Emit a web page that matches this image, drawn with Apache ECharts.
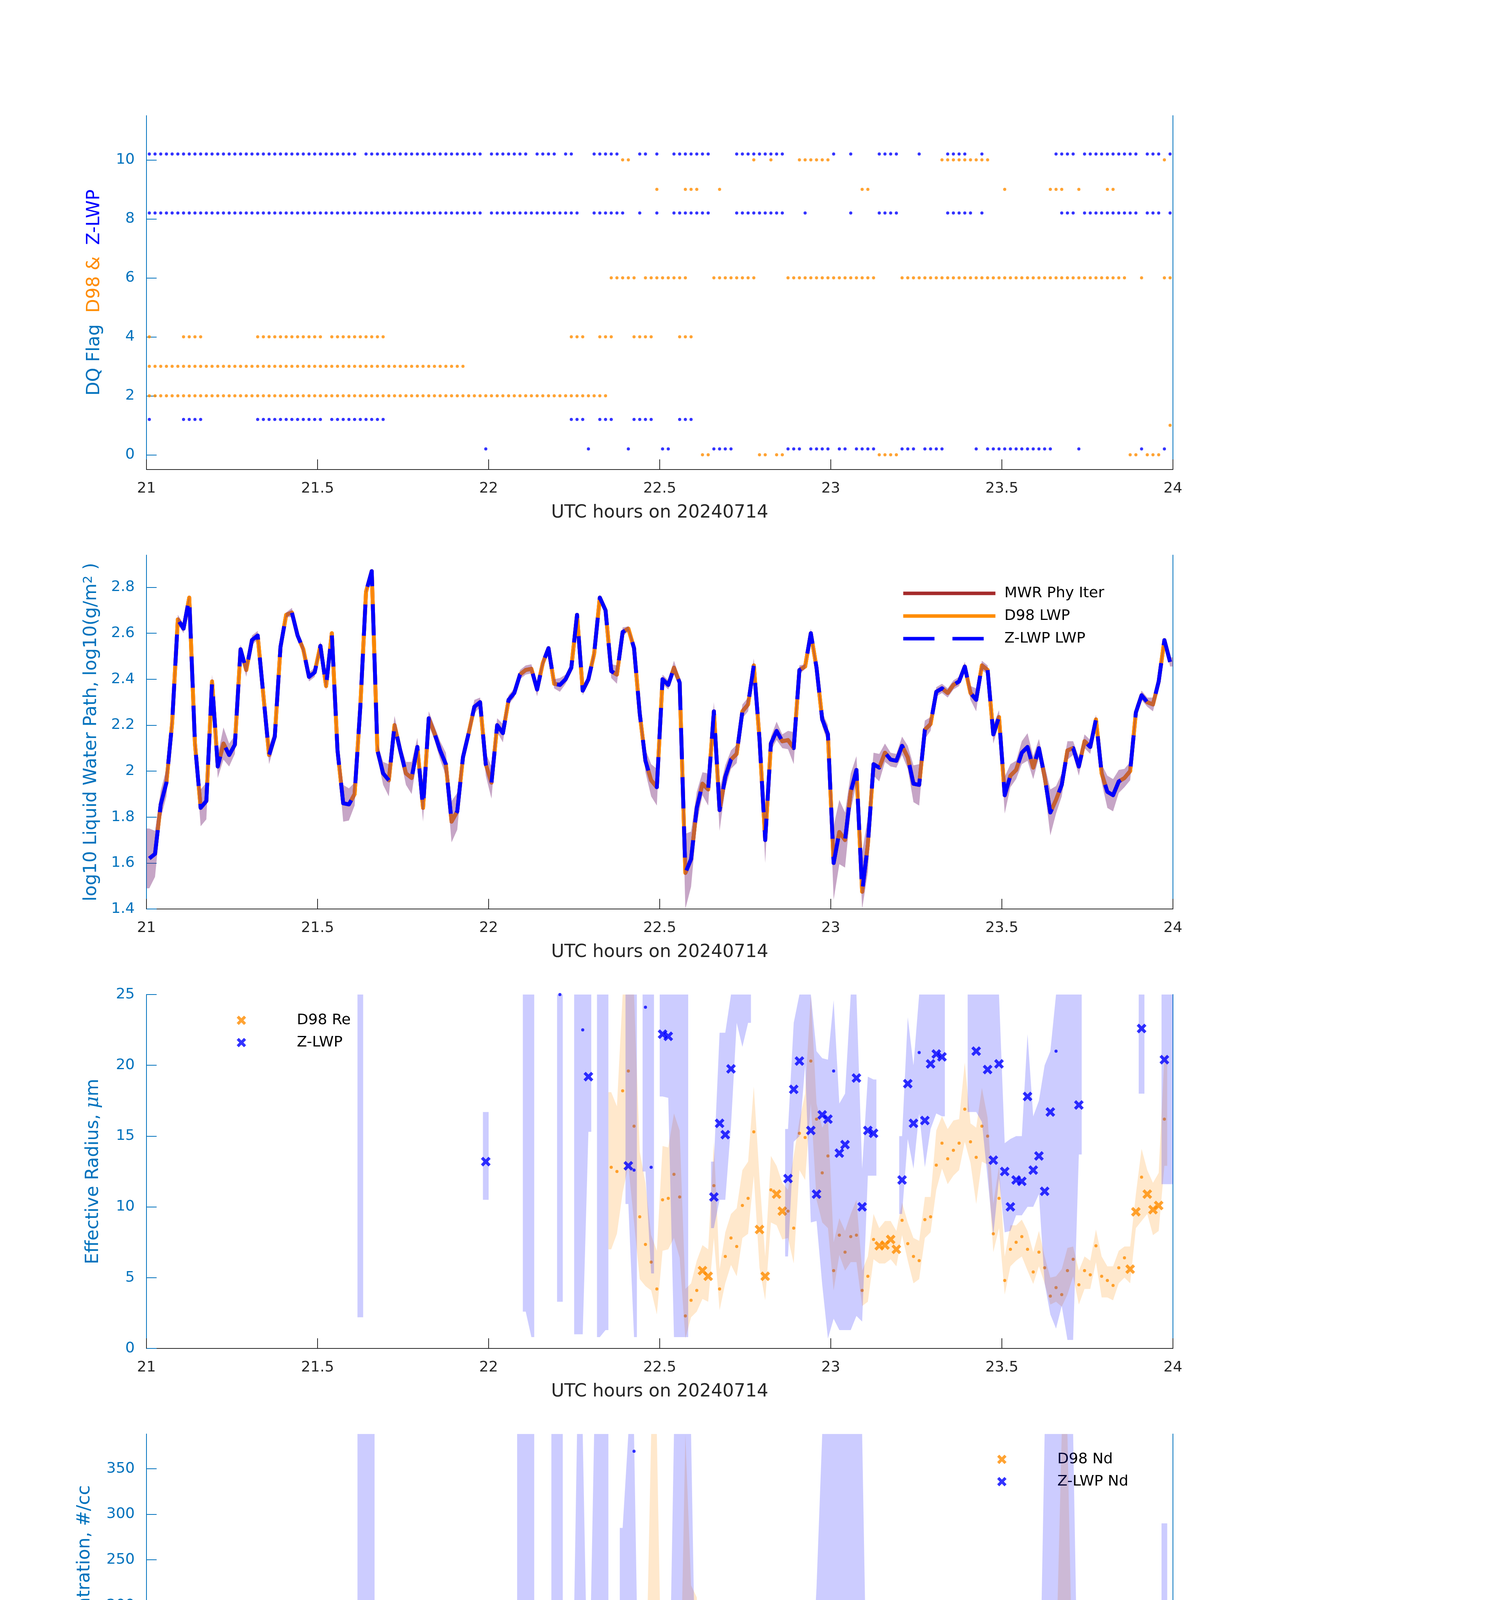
<!DOCTYPE html>
<html><head><meta charset="utf-8">
<script src="https://cdn.jsdelivr.net/npm/echarts@6/dist/echarts.min.js"></script>
<style>html,body{margin:0;padding:0;background:#fff}#c{width:3825px;height:6000px}</style>
</head><body><div id="c"></div>
<script>
// One-minute samples: index i -> 21 + (i+0.5)/60 UTC hours on 20240714
const N = 180;
const xTicks = [21, 21.5, 22, 22.5, 23, 23.5, 24];
// Panel 1: DQ flags as runs of minute indices [first,last]
const dqZ_flag10 = [[0,36],[38,58],[60,66],[68,71],[73,74],[78,82],[86,87],[89,89],[92,98],[103,111],[120,120],[123,123],[128,131],[135,135],[140,143],[146,146],[159,162],[164,173],[175,177],[179,179]];
const dqZ_flag8  = [[0,58],[60,75],[78,83],[86,86],[89,89],[92,98],[103,111],[115,115],[123,123],[128,131],[140,144],[146,146],[160,162],[164,173],[175,177],[179,179]];
const dqZ_flag1  = [[0,0],[6,9],[19,30],[32,41],[74,76],[79,81],[85,88],[93,95]];
const dqZ_flag0  = [[59,59],[77,77],[84,84],[90,91],[99,102],[112,114],[116,119],[121,122],[124,127],[132,134],[136,139],[145,145],[147,158],[163,163],[174,174],[178,178]];
const dqD_flag10 = [[83,84],[106,106],[109,109],[114,119],[139,147],[178,178]];
const dqD_flag9  = [[89,89],[94,96],[100,100],[125,126],[150,150],[158,160],[163,163],[168,169]];
const dqD_flag6  = [[81,85],[87,94],[99,106],[112,127],[132,171],[174,174],[178,179]];
const dqD_flag4  = [[0,0],[6,9],[19,30],[32,41],[74,76],[79,81],[85,88],[93,95]];
const dqD_flag3  = [[0,55]];
const dqD_flag2  = [[0,80]];
const dqD_flag1  = [[179,179]];
const dqD_flag0  = [[97,98],[107,108],[110,111],[128,131],[172,173],[175,177]];
// Panel 2: log10 LWP and uncertainty half-width
const lwp = [
1.62,1.64,1.855,1.95,2.21,2.66,2.62,2.755,2.12,1.84,1.87,2.39,2.02,2.12,2.07,2.115,2.53,2.44,2.57,2.59,
2.33,2.07,2.15,2.54,2.68,2.69,2.59,2.53,2.41,2.43,2.545,2.37,2.60,2.09,1.86,1.855,1.90,2.28,2.78,2.87,
2.09,1.99,1.96,2.20,2.09,1.99,1.97,2.105,1.84,2.23,2.165,2.09,2.03,1.78,1.825,2.06,2.165,2.28,2.30,2.03,
1.95,2.20,2.165,2.31,2.34,2.42,2.44,2.445,2.355,2.47,2.535,2.38,2.375,2.40,2.45,2.68,2.35,2.40,2.51,2.755,
2.70,2.435,2.42,2.605,2.62,2.535,2.25,2.045,1.96,1.93,2.40,2.375,2.45,2.385,1.557,1.617,1.84,1.945,1.92,2.26,
1.83,1.975,2.05,2.075,2.26,2.29,2.46,2.14,1.70,2.12,2.175,2.13,2.135,2.10,2.44,2.455,2.60,2.45,2.225,2.16,
1.60,1.735,1.70,1.91,2.005,1.475,1.68,2.03,2.015,2.08,2.05,2.045,2.11,2.06,1.945,1.94,2.18,2.205,2.345,2.36,
2.34,2.375,2.39,2.455,2.34,2.31,2.46,2.44,2.16,2.235,1.895,1.98,2.005,2.08,2.105,2.015,2.10,1.975,1.82,1.875,
1.94,2.09,2.10,2.02,2.13,2.105,2.225,1.99,1.91,1.895,1.955,1.97,2.00,2.255,2.33,2.30,2.29,2.39,2.57,2.475];
const lwpErr = [
.13,.10,.06,.06,.04,.02,.02,.01,.03,.08,.08,.03,.05,.07,.05,.04,.02,.03,.02,.02,
.02,.04,.03,.02,.01,.02,.01,.02,.02,.02,.02,.02,.01,.03,.08,.07,.05,.03,.01,.01,
.03,.05,.07,.04,.03,.05,.07,.04,.06,.03,.03,.04,.05,.09,.08,.04,.03,.03,.02,.05,
.07,.03,.04,.02,.02,.02,.02,.02,.03,.02,.01,.02,.03,.02,.02,.01,.02,.02,.02,.01,
.02,.03,.04,.02,.01,.02,.03,.05,.07,.08,.02,.02,.03,.02,.17,.12,.07,.05,.07,.04,
.09,.05,.04,.04,.03,.03,.03,.03,.10,.03,.04,.03,.04,.07,.02,.01,.02,.02,.03,.04,
.16,.14,.12,.08,.06,.17,.12,.05,.06,.04,.03,.03,.04,.05,.08,.09,.04,.03,.02,.02,
.02,.02,.02,.02,.03,.05,.02,.02,.04,.03,.08,.05,.04,.05,.06,.05,.04,.05,.10,.06,
.05,.04,.03,.04,.03,.03,.02,.04,.07,.07,.05,.04,.04,.03,.02,.02,.03,.03,.01,.02];
// D98 retrievals: minutes 81..178
const d98Start = 81;
const reD98 = [
12.8,12.5,18.2,19.6,15.7,9.3,7.35,6.1,4.2,10.5,10.6,12.3,10.7,2.3,3.4,4.1,5.5,5.1,11.5,4.2,
6.5,7.8,7.2,10.1,10.6,15.3,8.4,5.1,11.2,10.9,9.7,9.7,8.5,15.2,14.9,20.3,16.2,12.4,13.6,5.5,
8.0,6.8,7.9,8.0,4.1,5.1,7.7,7.25,7.3,7.7,7.0,9.05,7.4,6.5,6.2,9.1,9.3,12.95,14.5,13.4,
14.0,14.5,16.9,14.6,13.5,15.7,15.0,8.1,10.6,4.8,7.0,7.5,7.9,7.0,5.4,6.8,5.7,3.7,4.3,3.8,
5.5,6.3,4.5,5.5,5.2,7.25,5.1,4.8,4.45,5.7,6.4,5.6,9.65,12.1,10.9,9.8,10.1,16.2];
const reD98Lo = [
7.0,8.1,11.0,12.9,8.9,4.9,4.4,4.1,2.4,6.9,7.0,7.8,6.4,0.7,2.2,2.6,3.5,3.3,7.8,2.7,
4.6,5.9,5.1,7.8,8.1,12.2,5.7,3.4,8.9,8.7,7.7,7.8,6.0,12.6,11.9,17.3,10.5,8.9,8.5,4.1,
6.6,5.5,6.1,6.1,3.0,3.3,6.3,6.0,6.0,6.3,5.8,8.0,6.2,4.6,4.9,7.8,8.2,11.2,12.7,11.6,
12.2,12.6,14.6,13.1,10.2,13.2,13.0,6.8,8.5,3.8,5.8,6.2,6.5,5.5,4.55,5.8,4.6,3.1,3.3,2.95,
3.8,5.1,3.1,4.2,4.2,6.1,3.6,3.6,3.4,4.6,5.0,4.6,8.5,9.0,9.5,8.0,8.3,12.9];
const reD98Hi = [
18.1,17.1,26,26,26,13.9,11.7,8.0,6.9,14.3,14.2,16.6,15.4,4.2,4.6,6.2,7.3,7.0,14.6,5.6,
8.2,9.5,9.9,12.6,13.2,18.5,12.1,6.5,13.6,12.9,11.7,11.2,13.6,16.1,18.0,25.5,17.3,15.6,16.3,7.5,
9.2,8.3,9.5,10.5,5.5,6.5,9.5,8.5,9.0,9.0,8.3,10.3,8.9,7.8,7.6,10.7,10.7,15.4,16.4,15.5,
16.1,16.2,20.2,15.9,15.6,18.4,16.3,10.2,12.9,6.5,8.7,8.7,9.1,8.3,6.8,8.3,6.5,5.0,5.1,5.6,
7.1,7.2,5.5,6.5,6.2,8.4,6.5,5.8,5.8,6.9,7.2,7.2,10.9,14.1,12.6,11.7,12.4,20.7];
const ndD98 = [
8,9,4.5,4,5.8,12.6,16.8,25.4,76.5,12,11.8,9.2,11.3,167,55.5,52.4,26.7,30,6,50,
19.6,12.3,18,9.2,8.4,3.9,11.5,19.6,4.5,5.8,7.6,7,8,3.9,4.7,2.4,3.4,4.7,3.1,12.8,
5.8,9,8.4,9.2,21.5,18.3,12,13,13.6,11.8,15.7,9.2,14,16,19.6,9.2,10.5,5.2,3.9,5,
5,5,3,4.5,5.8,4.5,4.5,14,10,36.7,15.7,14,13,21,36.7,21.5,28,77,56,94,
43,28.3,55.5,38.5,39.3,20,31.4,32.7,41.7,22.8,17,28,9.4,7,8.4,10.5,11,4.5];
const ndD98Lo = [
4,5,2,2,3,6,8,10,30,5,5,4,5,40,20,20,14,15,3,15,
8,6,7,4,4,2,6,8,2,3,4,3,3,2,2,1,2,2,2,6,
3,4,4,5,10,8,6,8,8,7,9,5,7,8,9,5,6,3,2,3,
3,3,2,2,3,2,2,8,5,15,8,7,7,10,16,11,13,30,25,35,
20,13,25,18,19,10,14,15,19,11,8,14,5,5,4,5,6,2];
const ndD98Hi = [
50,30,13,10,12,88,83,400,400,46,44,45,60,400,222,209,105,125,30,197,
87,40,55,20,18,10,36,73,12,12,15,15,32,10,10,6,8,10,8,24,
20,22,22,24,56,50,25,24,24,22,28,27,30,45,38,20,20,12,8,7,
7,7,6,7,8,7,24,24,24,80,40,40,40,45,67,38,45,134,135,400,
400,80,180,84,75,66,125,74,101,40,20,52,17,19,15,18,19,14];
const odD98 = [
32.3,31.6,33.0,31.8,32.4,29.4,22.9,22.7,31.4,35.9,33.3,34.9,34.6,24.5,18.4,25.9,24.4,24.4,23.8,25.1,
22.1,21.6,25.0,27.3,28.6,28.5,24.9,14.9,17.8,20.7,21.0,21.2,22.3,27.3,28.5,29.4,25.3,20.2,15.9,11.0,
10.4,11.1,15.5,19.2,11.0,13.9,21.2,21.7,25.0,21.9,24.0,21.5,23.0,20.6,21.2,25.1,26.2,25.7,23.9,24.4,
25.3,25.6,25.6,22.4,22.7,27.7,27.3,26.9,24.6,25.1,20.9,20.6,22.7,28.0,29.2,28.2,25.2,27.3,26.7,35.0,
34.1,30.9,34.8,37.7,35.3,35.4,27.8,25.8,27.2,24.1,22.0,27.0,28.4,27.0,27.6,30.2,37.0,34.5];
const odD98Lo = [
22.7,22.7,22.7,22.7,23.2,21,18.4,16.8,18,25.5,25.5,13.1,13.1,13.1,14.9,17.4,18.4,18.2,18.8,18.6,
17.9,17.7,18.4,22,23.4,24.4,17.4,11.7,13.5,18.1,18.8,19.8,23.4,23.5,23.5,22,18.4,14.2,11,9.1,
9.1,9.2,12.1,14.2,8.4,13.5,18.4,18.4,20,18.8,19.8,18.4,18.4,17,18.4,20.5,22.8,22.3,21.6,21.1,
22.7,22,20.5,19.7,20.5,23.5,23.5,23.7,23,19.8,17.7,19.5,21.6,22.7,24.4,23.4,22,22.3,25.8,25.8,
26.4,26.9,30.1,31,29.7,29.7,29.4,24.6,22.3,20.4,19.7,25,23.5,24.1,25.5,28,32.9,26.9];
const odD98Hi = [
60,60,60,60,60,60,60,60,60,60,60,60,60,60,60,41.2,38.7,39.4,34.8,39.6,
30.4,29.0,36.4,36.3,37.8,35.7,37.2,22.7,22.8,26.7,26.7,26.9,32.5,32.5,36.1,36.1,31.1,25.5,18.8,14.2,
12.6,14.2,19.8,25.1,14.9,18.4,24.1,26.5,30.8,26.9,28.3,28.4,28.7,29,28,29.7,30.1,29.9,27.6,28.7,
29.5,30.1,26.2,30.4,30.4,32.9,31.8,31.8,30.4,32.5,25,25.5,29.4,31.8,36.1,33.3,30.8,36.1,43.1,60,
60,60,51.6,47.7,43.8,41.4,44,36.1,34.5,31.8,32.9,32.9,32.7,33.6,34.3,39.6,45.4,43.7];
// Z-LWP retrievals (sparse: minute index -> value or [low, high])
const reZ = {59:13.2,72:25.0,76:22.5,77:19.2,84:12.9,85:12.6,87:24.1,88:12.8,90:22.2,91:22.05,
99:10.7,100:15.9,101:15.1,102:19.75,112:12.0,113:18.3,114:20.3,116:15.4,117:10.9,118:16.5,119:16.2,
120:19.6,121:13.8,122:14.4,124:19.1,125:10.0,126:15.4,127:15.2,132:11.9,133:18.7,134:15.9,135:20.9,
136:16.1,137:20.1,138:20.8,139:20.6,145:21.0,147:19.7,148:13.3,149:20.1,150:12.5,151:10.0,152:11.9,
153:11.8,154:17.8,155:12.6,156:13.6,157:11.1,158:16.7,159:21.0,163:17.2,174:22.6,178:20.4};
const reZBand = {37:[2.2,26],59:[10.5,16.7],66:[2.6,26],67:[0.8,26],72:[3.3,26],75:[1.0,26],76:[1.0,26],77:[15.3,26],
79:[0.8,26],80:[1.3,26],84:[10.2,26],85:[0.8,26],87:[12.5,26],88:[5.3,26],90:[17.8,26],91:[17.7,26],92:[0.8,26],
93:[0.8,26],94:[0.8,26],99:[8.5,13.2],100:[10.5,22.3],101:[10.5,22.3],102:[15.7,26],103:[23,26],104:[21.3,26],
105:[23,26],112:[6.5,15.5],113:[14.6,23],114:[15,26],115:[20,26],116:[8.9,26],117:[9,21],118:[4.5,20.5],
119:[0.7,20.4],120:[2.1,24.6],121:[1.3,17.3],122:[1.3,18],123:[1.3,26],124:[2.3,26],125:[1.9,12.7],
126:[12.2,19.2],127:[12.2,19.0],132:[9.5,15],133:[14.8,23.4],134:[12.7,20],135:[16.6,26],136:[12.8,26],
137:[15.5,26],138:[16.6,26],139:[16.4,26],144:[16.7,26],145:[16.7,26],146:[16,26],147:[12,26],148:[8,26],
149:[12,26],150:[8.2,14.5],151:[8.3,14.8],152:[9.4,15],153:[9.4,15],154:[10,22.2],155:[10,16.4],
156:[10.9,17.5],157:[4.6,20],158:[2.4,21],159:[1.4,26],160:[3,26],161:[0.6,26],162:[0.6,26],163:[13.7,26],
174:[18,26],178:[11.6,26],179:[11.6,26]};
const ndZ = [
0,0,0,0,0,0,0,0,0,0, 0,0,0,0,0,0,0,0,0,0, 0,0,0,0,0,0,0,0,0,0,
0,0,0,0,0,0,0,0,0,0, 0,0,0,0,0,0,0,0,0,0, 0,0,0,0,0,0,0,0,0,24,
0,0,0,0,0,0,1,6.3,0,0, 0,0,61,1.6,1,46,29,27.5,1,1.8,
1,1.6,1.8,7,142.5,369,0,4.5,30.6,1.3, 14,10.5,0,0,0,0,0,0,0,79,
7,15.7,6.5,2.6,4.2,2.4,1.8,0,0,0, 0,0,26,8.4,10,5.2,50,66.5,11,13.6,
3,14,8.4,3,5.8,12.8,6.5,11.8,0,0, 0,0,32.5,7,8.4,3.9,13,7,9.2,9.2,
2.6,2.6,2.6,2.6,5.8,7.9,3,13,18.3,9, 15.7,47,30,31.4,8.4,18.9,19.6,52,8.4,4.5,
1.3,3,3,14.4,0,0,0,0,0,0, 0,0,0,0,9.2,0,0,0,26,0];
const ndZBand = {37:[0,400],38:[0,400],39:[0,400],59:[8,86],65:[0,400],66:[0,400],67:[0,400],71:[0,400],72:[0,400],
74:[0,6],75:[0,400],76:[0,400],77:[0,55],78:[0,400],79:[0,400],80:[0,400],83:[3,285],84:[0,400],85:[0,400],
86:[0,8],87:[0,10],88:[10,61],89:[0,10],90:[0,27],91:[0,27],92:[0,400],93:[0,400],94:[0,400],95:[0,400],96:[0,25],
97:[0,25],98:[0,25],99:[40,158],100:[3,20],101:[5,90],102:[2,25],103:[0,8],104:[0,8],105:[0,8],106:[0,8],
112:[8,91],113:[3,20],114:[3,20],115:[2,10],116:[12,100],117:[16,220],118:[3,400],119:[0,400],120:[0,400],
121:[0,400],122:[0,400],123:[0,400],124:[0,400],125:[0,400],126:[2,25],127:[3,25],132:[10,65],133:[2,25],
134:[2,25],135:[2,25],136:[2,25],137:[2,25],138:[2,25],139:[2,25],144:[0,15],145:[0,15],146:[0,15],147:[3,35],
148:[3,35],149:[3,35],150:[5,40],151:[15,113],152:[10,63],153:[10,63],154:[3,40],155:[5,30],156:[5,40],
157:[10,400],158:[0,400],159:[0,400],160:[0,400],161:[0,400],162:[0,400],163:[5,25],174:[3,18],178:[0,290]};
const odZ = [
0.2,0.25,0.4,0.5,1.0,3.7,3.5,6.0,0.7,0.3, 0.3,1.5,0.5,0.7,0.7,0.85,2.9,1.9,3.0,2.9,
1.2,0.6,0.8,2.7,4.6,4.0,3.4,2.6,2.0,2.4, 4.9,1.7,5.6,0.8,0.4,0.4,0.5,10.9,5.3,7.2,
0.7,0.4,0.4,0.9,0.6,0.5,0.5,0.7,0.3,1.0, 0.8,0.6,0.6,0.3,0.4,0.7,1.0,1.6,1.8,13.0,
0.9,1.9,1.7,2.7,3.0,3.9,8.2,16.2,3.8,5.4, 9.1,4.9,14.9,9.0,7.5,25.7,15.1,19.7,9.6,17.7,
11.4,9.8,9.6,17.8,49.7,40.9,3.4,7.1,11.1,3.7, 17.2,16.1,7.8,6.8,1.8,0.25,0.5,0.7,0.7,26.4,
6.5,9.6,8.7,6.3,10.4,9.7,11.5,1.55,0.4,1.1, 1.2,1.2,17.3,10.4,20.6,17.1,39.9,38.1,15.2,14.1,
3.3,6.5,5.4,5.0,8.2,4.6,4.7,10.8,1.2,1.4, 1.1,1.1,16.7,9.3,8.5,6.3,14.6,12.4,16.5,17.1,
10.6,11.2,10.8,14.0,13.5,14.8,14.3,21.3,16.5,13.4, 9.8,15.0,13.0,15.5,11.0,12.7,14.2,13.2,6.0,5.5,
4.4,7.1,7.5,9.1,1.4,1.2,1.9,0.9,0.8,0.7, 0.85,1.0,1.1,2.3,14.8,1.9,2.1,3.1,27.7,4.6];
const odZLo = [
0.1,0.15,0.3,0.4,0.8,3.0,2.8,5.0,0.5,0.2, 0.2,1.2,0.4,0.5,0.5,0.6,2.4,1.5,2.6,2.5,
1.0,0.5,0.6,2.2,3.8,3.3,2.8,2.1,1.6,2.0, 4.0,1.4,4.6,0.6,0.3,0.3,0.4,1.5,4.5,6.8,
0.5,0.3,0.3,0.7,0.5,0.4,0.4,0.5,0.2,0.8, 0.6,0.5,0.5,0.2,0.3,0.5,0.8,1.3,1.5,10.2,
0.7,1.5,1.4,2.2,2.4,3.1,4.5,4.0,3.0,4.3, 7.3,3.9,4.0,5.0,3.5,8.0,7.0,7.0,7.5,7.5,
7.8,8.2,7.8,7.8,9.6,9.6,2.5,5.0,7.0,2.2, 11.2,11.2,6.4,5.4,0.8,0.15,0.35,0.5,0.5,20.9,
5.0,8.0,7.5,5.0,8.5,8.0,9.5,1.2,0.3,0.9, 1.0,1.0,9.2,8.5,13.7,13.7,30,30,12,12,
1.8,3.8,4.5,4.5,5.0,2.0,2.0,8.5,0.9,1.1, 0.8,0.8,13.1,5.5,5.0,4.5,11.7,10,13,13.5,
8.5,9,9,11,11,11.4,11.4,16,13,11.5, 7.8,10,10,10.3,8.5,9.5,10,9,3.5,3.5,
3.0,4.5,5.0,4.5,1.1,1.0,1.6,0.7,0.6,0.5, 0.65,0.8,0.9,1.9,12.6,1.5,1.7,2.6,14.9,3.6];
const odZHi = [
0.3,0.35,0.5,0.6,1.2,4.6,4.4,7.5,0.9,0.4, 0.4,1.9,0.6,0.9,0.9,1.1,3.5,2.3,3.8,3.6,
1.5,0.8,1.0,3.3,5.8,5.0,4.2,3.2,2.5,3.0, 6.0,2.1,7.0,1.0,0.5,0.5,0.6,60,60,60,
0.9,0.5,0.5,1.1,0.8,0.6,0.6,0.9,0.4,1.2, 1.0,0.8,0.8,0.4,0.5,0.9,1.2,2.0,2.2,16.6,
1.1,2.3,2.1,3.3,3.6,4.7,60,60,4.6,6.5, 10.9,5.9,60,60,27,27.4,24.8,24.8,60,60,
60,12.4,12.0,22.7,60,60,6.0,9.0,14.0,4.7, 21.8,21.8,60,60,60,0.4,0.7,0.9,0.9,33.2,
7.8,13.8,12.0,7.5,12.5,11.5,13.5,1.9,0.6,1.4, 1.5,1.5,22,13,25.8,21.6,50,48,60,60,
29.5,60,60,60,60,60,13.8,13.8,1.5,1.7, 1.4,1.4,21,11.5,11.5,11,18.4,18,21,21.5,
14,14,14.5,17,16.5,18.4,18,26.9,23.5,18.4, 17.5,18.4,18,19,18,18,18.5,18,60,60,
60,60,60,11.5,1.7,1.5,2.3,1.1,1.0,0.9, 1.05,1.3,1.4,2.8,18.6,2.3,2.6,3.7,49.8,5.7];

// ================= HELPERS =================
const FONT = 'DejaVu Sans';
const AX = '#0072BD', DARK = '#262626', ORANGE = '#FF8C00', BLUE = '#0000FF', BROWN = '#A52A2A';
const XSYM = 'path://M22,0L50,28L78,0L100,22L72,50L100,78L78,100L50,72L22,100L0,78L28,50L0,22Z';
const T = i => 21 + (i + 0.5) / 60;
const HALF = 0.5 / 60;
function placed(start, vals) { const a = new Array(N).fill(null); vals.forEach((v, k) => { a[start + k] = v; }); return a; }
function sparse(obj) { const a = new Array(N).fill(null); for (const k in obj) a[+k] = obj[k]; return a; }
function sparseBand(obj) { const lo = new Array(N).fill(null), hi = new Array(N).fill(null);
  for (const k in obj) { lo[+k] = obj[k][0]; hi[+k] = obj[k][1]; } return [lo, hi]; }
function idxSet(runs) { const s = new Set(); runs.forEach(([a, b]) => { for (let i = a; i <= b; i++) s.add(i); }); return s; }
const zGood = idxSet(dqZ_flag0), dGood = idxSet(dqD_flag0);
function pts(arr, keep) { const out = []; for (let i = 0; i < N; i++) if (arr[i] != null && keep(i)) out.push([T(i), arr[i]]); return out; }
function bandSeries(g, lo, hi, ymin, ymax, color, z) {
  return { type: 'custom', xAxisIndex: g, yAxisIndex: 2 * g, z, silent: true, clip: true, animation: false,
    data: [[21, ymin]],
    renderItem(params, api) {
      const kids = []; const c = v => Math.max(ymin, Math.min(ymax, v)); let i = 0;
      while (i < N) {
        if (lo[i] == null || hi[i] == null) { i++; continue; }
        let j = i; while (j + 1 < N && lo[j + 1] != null && hi[j + 1] != null) j++;
        const p = [];
        p.push(api.coord([T(i) - HALF, c(hi[i])]));
        for (let k = i; k <= j; k++) p.push(api.coord([T(k), c(hi[k])]));
        p.push(api.coord([T(j) + HALF, c(hi[j])]));
        p.push(api.coord([T(j) + HALF, c(lo[j])]));
        for (let k = j; k >= i; k--) p.push(api.coord([T(k), c(lo[k])]));
        p.push(api.coord([T(i) - HALF, c(lo[i])]));
        kids.push({ type: 'polygon', shape: { points: p }, style: { fill: color } });
        i = j + 1;
      }
      return { type: 'group', children: kids };
    } };
}
function dots(g, data, color, z, size) {
  return { type: 'scatter', xAxisIndex: g, yAxisIndex: 2 * g, data, z, symbol: 'circle', symbolSize: size || 8,
    itemStyle: { color }, silent: true, animation: false };
}
function crosses(g, data, color, z, name) {
  return { type: 'scatter', name, xAxisIndex: g, yAxisIndex: 2 * g, data, z, symbol: XSYM, symbolSize: 25,
    itemStyle: { color }, silent: true, animation: false };
}
// ================= LAYOUT =================
const tops = [296, 1421, 2546, 3671, 4796];
const H = 906, L = 375, W = 2628;
const grids = tops.map(t => ({ left: L, top: t, width: W, height: H }));
function xAx(g) {
  return { type: 'value', gridIndex: g, min: 21, max: 24, interval: 0.5,
    axisLine: { show: true, onZero: false, lineStyle: { color: DARK, width: 2 } },
    axisTick: { show: true, inside: true, length: 26, lineStyle: { color: DARK, width: 2 }, customValues: xTicks },
    axisLabel: { color: DARK, fontSize: 38, fontFamily: FONT, margin: 30, customValues: xTicks },
    splitLine: { show: false },
    name: 'UTC hours on 20240714', nameLocation: 'middle', nameGap: 88,
    nameTextStyle: { color: DARK, fontSize: 46, fontFamily: FONT } };
}
function yAx(g, min, max, ticks, name, gap, rich) {
  return { type: 'value', gridIndex: g, position: 'left', min, max,
    axisLine: { show: true, onZero: false, lineStyle: { color: AX, width: 2 } },
    axisTick: { show: true, inside: true, length: 26, lineStyle: { color: AX, width: 2 }, customValues: ticks },
    axisLabel: { color: AX, fontSize: 38, fontFamily: FONT, margin: 30, customValues: ticks },
    splitLine: { show: false },
    name, nameLocation: 'middle', nameGap: gap, nameRotate: 90,
    nameTextStyle: { color: AX, fontSize: 46, fontFamily: FONT, rich: rich || {} } };
}
function yRight(g) {
  return { type: 'value', gridIndex: g, position: 'right', min: 0, max: 1,
    axisLine: { show: true, onZero: false, lineStyle: { color: AX, width: 2 } },
    axisTick: { show: false }, axisLabel: { show: false }, splitLine: { show: false } };
}
const dqTicks = [0, 2, 4, 6, 8, 10];
const lwpTicks = [1.4, 1.6, 1.8, 2, 2.2, 2.4, 2.6, 2.8];
const reTicks = [0, 5, 10, 15, 20, 25];
const ndTicks = [0, 50, 100, 150, 200, 250, 300, 350];
const odTicks = [0, 10, 20, 30, 40, 50];
const yAxes = [
  yAx(0, -0.5, 11.5, dqTicks, '{a|DQ Flag}  {b|D98 &}  {c|Z-LWP}', 110, {
    a: { color: AX, fontSize: 46, fontFamily: FONT }, b: { color: ORANGE, fontSize: 46, fontFamily: FONT },
    c: { color: BLUE, fontSize: 46, fontFamily: FONT } }), yRight(0),
  yAx(1, 1.4, 2.94, lwpTicks, 'log10 Liquid Water Path, log10(g/m{s|2} )', 118, {
    s: { color: AX, fontSize: 32, fontFamily: FONT, verticalAlign: 'top', lineHeight: 30 } }), yRight(1),
  yAx(2, 0, 25, reTicks, 'Effective Radius, {mu|μ}m', 112, {
    mu: { color: AX, fontSize: 48, fontFamily: 'DejaVu Serif', fontStyle: 'italic' } }), yRight(2),
  yAx(3, 0, 388, ndTicks, 'Droplet Concentration, #/cc', 135), yRight(3),
  yAx(4, 0, 52.2, odTicks, 'Optical Depth', 115), yRight(4)
];
// ================= SERIES =================
const series = [];
const dqOrange = [], dqBlue = [];
[[dqD_flag10,10],[dqD_flag9,9],[dqD_flag6,6],[dqD_flag4,4],[dqD_flag3,3],[dqD_flag2,2],[dqD_flag1,1],[dqD_flag0,0]]
  .forEach(([runs, f]) => idxSet(runs).forEach(i => dqOrange.push([T(i), f])));
[[dqZ_flag10,10],[dqZ_flag8,8],[dqZ_flag1,1],[dqZ_flag0,0]]
  .forEach(([runs, f]) => idxSet(runs).forEach(i => dqBlue.push([T(i), f + 0.2])));
series.push(dots(0, dqOrange, ORANGE, 3, 8));
series.push(dots(0, dqBlue, BLUE, 4, 8));
const lwpLine = lwp.map((v, i) => [T(i), v]);
series.push({ type: 'line', name: 'MWR Phy Iter', xAxisIndex: 1, yAxisIndex: 2, data: lwpLine, z: 2,
  symbol: 'none', showSymbol: false, lineStyle: { color: BROWN, width: 10, join: 'round' }, itemStyle: { color: BROWN }, animation: false });
series.push({ type: 'line', name: 'D98 LWP', xAxisIndex: 1, yAxisIndex: 2, data: lwpLine, z: 3,
  symbol: 'none', showSymbol: false, lineStyle: { color: ORANGE, width: 10, join: 'round' }, itemStyle: { color: ORANGE }, animation: false });
series.push(bandSeries(1, lwp.map((v, i) => v - lwpErr[i]), lwp.map((v, i) => v + lwpErr[i]), 1.4, 2.94, 'rgba(120,40,120,0.42)', 4));
series.push({ type: 'line', name: 'Z-LWP LWP', xAxisIndex: 1, yAxisIndex: 2, data: lwpLine, z: 5,
  symbol: 'none', showSymbol: false, lineStyle: { color: BLUE, width: 10, type: [80, 46], join: 'round' }, itemStyle: { color: BLUE }, animation: false });
function retrievalPanel(g, ymin, ymax, dVal, dLo, dHi, zVal, zLo, zHi, dName, zName) {
  series.push(bandSeries(g, dLo, dHi, ymin, ymax, 'rgba(255,140,0,0.2)', 2));
  series.push(dots(g, pts(dVal, i => !dGood.has(i)), ORANGE, 3));
  series.push(crosses(g, pts(dVal, i => dGood.has(i)), ORANGE, 4, dName));
  series.push(bandSeries(g, zLo, zHi, ymin, ymax, 'rgba(0,0,255,0.2)', 5));
  series.push(dots(g, pts(zVal, i => !zGood.has(i)), BLUE, 6));
  series.push(crosses(g, pts(zVal, i => zGood.has(i)), BLUE, 7, zName));
}
const [reZLo, reZHi] = sparseBand(reZBand);
retrievalPanel(2, 0, 25, placed(d98Start, reD98), placed(d98Start, reD98Lo), placed(d98Start, reD98Hi), sparse(reZ), reZLo, reZHi, 'D98 Re', 'Z-LWP');
const [ndZLo, ndZHi] = sparseBand(ndZBand);
retrievalPanel(3, 0, 388, placed(d98Start, ndD98), placed(d98Start, ndD98Lo), placed(d98Start, ndD98Hi), ndZ, ndZLo, ndZHi, 'D98 Nd', 'Z-LWP Nd');
retrievalPanel(4, 0, 52.2, placed(d98Start, odD98), placed(d98Start, odD98Lo), placed(d98Start, odD98Hi), odZ, odZLo, odZHi, 'D98 OD', 'Z-LWP Nd');
// ================= LEGENDS =================
const legText = pad => ({ fontSize: 38, fontFamily: FONT, color: '#000', padding: [0, 0, 0, pad], lineHeight: 38 });
const legends = [
  { data: ['MWR Phy Iter', 'D98 LWP', 'Z-LWP LWP'], orient: 'vertical', left: 2308, top: 1500, padding: 0,
    itemWidth: 236, itemHeight: 20, itemGap: 20, textStyle: legText(18), selectedMode: false,
    itemStyle: { opacity: 0 }, lineStyle: { width: 9 } },
  { data: ['D98 Re', 'Z-LWP'], orient: 'vertical', left: 606, top: 2593, padding: 0,
    itemWidth: 24, itemHeight: 24, itemGap: 19, textStyle: legText(125), selectedMode: false },
  { data: ['D98 Nd', 'Z-LWP Nd'], orient: 'vertical', left: 2553, top: 3717, padding: 0,
    itemWidth: 24, itemHeight: 24, itemGap: 19, textStyle: legText(125), selectedMode: false },
  { data: ['D98 OD', 'Z-LWP Nd'], orient: 'vertical', left: 582, top: 4843, padding: 0,
    itemWidth: 24, itemHeight: 24, itemGap: 19, textStyle: legText(125), selectedMode: false }
];
const chart = echarts.init(document.getElementById('c'), null, { renderer: 'canvas' });
chart.setOption({ backgroundColor: '#fff', animation: false, textStyle: { fontFamily: FONT },
  grid: grids, xAxis: [0, 1, 2, 3, 4].map(xAx), yAxis: yAxes, legend: legends, series });
</script></body></html>
